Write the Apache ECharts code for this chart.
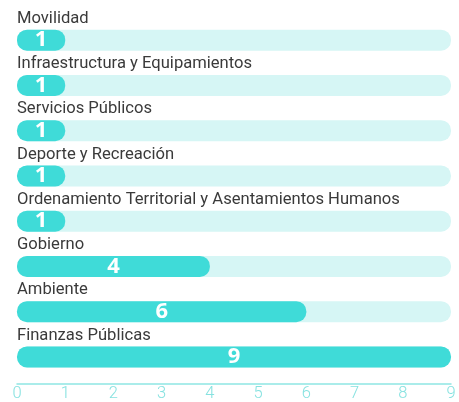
<!DOCTYPE html>
<html>
<head>
<meta charset="utf-8">
<script src="https://cdn.jsdelivr.net/npm/echarts@6/dist/echarts.min.js"></script>
<style>
  html, body { margin: 0; padding: 0; background: #fff; }
  #chart { width: 459px; height: 402px; }
</style>
</head>
<body>
<div id="chart"></div>
<script>
// categorias y valores
var categories = ['Movilidad', 'Infraestructura y Equipamientos', 'Servicios Públicos', 'Deporte y Recreación',
  'Ordenamiento Territorial y Asentamientos Humanos', 'Gobierno', 'Ambiente', 'Finanzas Públicas'];
var values = [1, 1, 1, 1, 1, 4, 6, 9];
var xTicks = [0, 1, 2, 3, 4, 5, 6, 7, 8, 9];

var chart = echarts.init(document.getElementById('chart'));

var option = {
  animation: false,
  grid: { left: 17, right: 8, top: 17.5, bottom: 22.5, outerBoundsMode: 'none', containLabel: false },
  xAxis: {
    type: 'value',
    min: xTicks[0],
    max: xTicks[xTicks.length - 1],
    interval: 1,
    offset: 4,
    splitLine: { show: false },
    axisLine: { show: true, lineStyle: { color: '#8fe6e4', width: 1.5 } },
    axisTick: { show: false },
    axisLabel: { color: '#86e2e0', fontSize: 16.5, fontFamily: 'Roboto', margin: 2, fontWeight: 300 }
  },
  yAxis: {
    type: 'category',
    inverse: true,
    data: categories,
    axisLine: { show: false },
    axisTick: { show: false },
    axisLabel: {
      inside: true,
      align: 'left',
      verticalAlign: 'bottom',
      margin: 0,
      padding: [0, 0, 13, 0],
      color: '#3a3a3a',
      fontSize: 16.6,
      fontFamily: 'Roboto'
    }
  },
  series: [{
    type: 'bar',
    data: values,
    barWidth: 21,
    showBackground: true,
    backgroundStyle: { color: '#d6f6f5', borderRadius: 10 },
    itemStyle: { color: '#3fdbd8', borderRadius: 10 },
    label: {
      show: true,
      position: 'inside',
      color: '#fff',
      fontSize: 22,
      fontWeight: 'bold',
      fontFamily: 'Open Sans'
    }
  }]
};
chart.setOption(option);
</script>
</body>
</html>
